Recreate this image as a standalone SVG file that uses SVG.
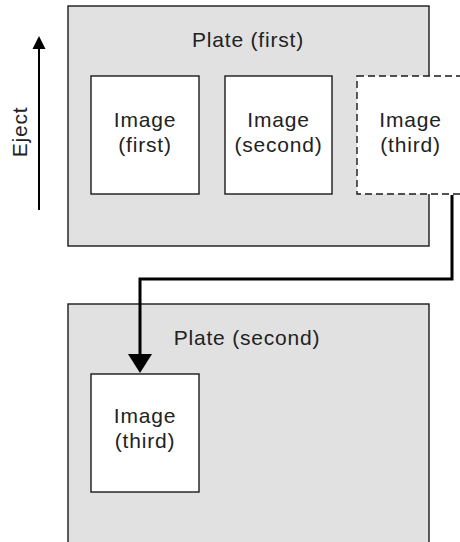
<svg xmlns="http://www.w3.org/2000/svg" width="460" height="542" viewBox="0 0 460 542">
<style>
.plate{fill:#e1e1e1;stroke:#1a1a1a;stroke-width:1.4}
.img{fill:#fff;stroke:#1a1a1a;stroke-width:1.4}
.dash{fill:#fff;stroke:#1a1a1a;stroke-width:1.4;stroke-dasharray:7,4}
text{font-family:"Liberation Sans",Arial,sans-serif;font-size:21px;fill:#222;text-anchor:middle;letter-spacing:0.8px}
.conn{fill:none;stroke:#000;stroke-width:3}
</style>
<g id="plate-first">
<rect class="plate" x="68" y="6" width="361" height="240"/>
<text x="248" y="47">Plate (first)</text>
</g>
<g id="image-first">
<rect class="img" x="91" y="76" width="108" height="118"/>
<text x="145" y="127">Image</text>
<text x="145" y="152">(first)</text>
</g>
<g id="image-second">
<rect class="img" x="225" y="76" width="107" height="118"/>
<text x="278.5" y="127">Image</text>
<text x="278.5" y="152">(second)</text>
</g>
<g id="image-third-ghost">
<rect class="dash" x="357" y="76" width="108" height="118"/>
<text x="410.5" y="127">Image</text>
<text x="410.5" y="152">(third)</text>
</g>
<g id="plate-second">
<rect class="plate" x="68" y="304" width="361" height="250"/>
<text x="247" y="345">Plate (second)</text>
</g>
<g id="image-third">
<rect class="img" x="91" y="374" width="108" height="118"/>
<text x="145" y="423">Image</text>
<text x="145" y="448">(third)</text>
</g>
<g id="eject">
<text x="0" y="0" transform="translate(27,132) rotate(-90)">Eject</text>
</g>
<g id="connectors">
<line x1="39" y1="210" x2="39" y2="48" stroke="#000" stroke-width="2"/>
<path d="M39,36 L45.5,49 L32.5,49 Z" fill="#000"/>
<polyline class="conn" points="452,195 452,279 140,279 140,356"/>
<path d="M128,354 L152,354 L140,373 Z" fill="#000"/>
</g>
</svg>
